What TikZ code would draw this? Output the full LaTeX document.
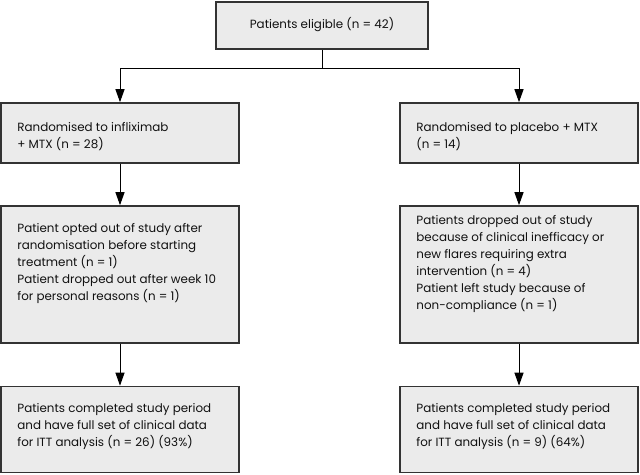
\documentclass[tikz,border=0pt]{standalone}
\usepackage{fontspec}
\setmainfont{Poppins}
\usetikzlibrary{arrows.meta,calc}
\definecolor{boxfill}{HTML}{EBEBEB}
\definecolor{boxline}{HTML}{333333}
\definecolor{txtcol}{HTML}{111111}
\begin{document}
\begin{tikzpicture}[x=1pt,y=-1pt,
  box/.style={draw=boxline, fill=boxfill, line width=1.6pt, inner sep=0pt},
  txt/.style={text=txtcol, align=left, inner sep=0pt, font=\fontsize{11.9}{17}\selectfont},
  arr/.style={draw=black, line width=1pt, -{Triangle[length=13pt,width=9pt]}},
  ln/.style={draw=black, line width=1pt}]
\useasboundingbox (0,0) rectangle (640,474);
% boxes
\node[box, minimum width=212pt, minimum height=47pt] (top) at (322,25.5) {};
\node[box, minimum width=238pt, minimum height=60pt] (l2) at (120,133) {};
\node[box, minimum width=238pt, minimum height=137pt] (l3) at (120,274.5) {};
\node[box, minimum width=238pt, minimum height=86pt] (l4) at (120,429.5) {};
\node[box, minimum width=238pt, minimum height=60pt] (r2) at (519,133) {};
\node[box, minimum width=238pt, minimum height=137pt] (r3) at (519,274.5) {};
\node[box, minimum width=238pt, minimum height=86pt] (r4) at (519,429.5) {};
% texts
\node[txt] (ttop) at (322,25) {Patients eligible (n = 42)};
\node[txt, anchor=west] (tl2) at ($(l2.west)+(17,3.5)$) {Randomised to infliximab\\+ MTX (n = 28)};
\node[txt, anchor=west] (tl3) at ($(l3.west)+(17,-11)$) {Patient opted out of study after\\randomisation before starting\\treatment (n = 1)\\Patient dropped out after week 10\\for personal reasons (n = 1)};
\node[txt, anchor=west] (tl4) at ($(l4.west)+(17,-2.5)$) {Patients completed study period\\and have full set of clinical data\\for ITT analysis (n = 26) (93\%)};
\node[txt, anchor=west] (tr2) at ($(r2.west)+(17,3.5)$) {Randomised to placebo + MTX\\(n = 14)};
\node[txt, anchor=west] (tr3) at ($(r3.west)+(17,-11)$) {Patients dropped out of study\\because of clinical inefficacy or\\new flares requiring extra\\intervention (n = 4)\\Patient left study because of\\non-compliance (n = 1)};
\node[txt, anchor=west] (tr4) at ($(r4.west)+(17,-2.5)$) {Patients completed study period\\and have full set of clinical data\\for ITT analysis (n = 9) (64\%)};
% connectors
\coordinate (j) at (322,68);
\draw[ln] (top.south) -- (j);
\draw[arr] (j) -| (l2.north);
\draw[arr] (j) -| (r2.north);
\draw[arr] (l2) -- (l3);
\draw[arr] (l3) -- (l4);
\draw[arr] (r2) -- (r3);
\draw[arr] (r3) -- (r4);
\end{tikzpicture}
\end{document}
